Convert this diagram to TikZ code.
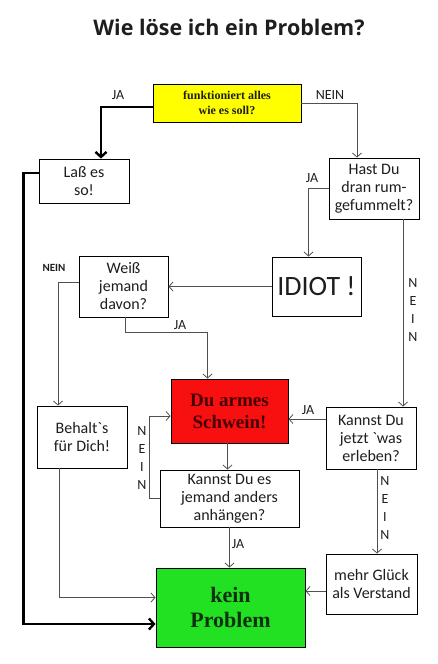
\documentclass[tikz,border=0pt]{standalone}
\usepackage{fontspec}
\setmainfont{Carlito}
\newfontfamily\plaincarlito{Carlito}
\newfontfamily\titlefont{Open Sans}
\newfontfamily\boxserif{Liberation Serif}
\usepackage{tikz}
\usetikzlibrary{arrows.meta,positioning,calc}
\definecolor{askYellow}{HTML}{FFFF00}
\definecolor{poorRed}{HTML}{F81010}
\definecolor{fineGreen}{HTML}{22E022}
\definecolor{lineGray}{HTML}{505050}
\definecolor{inkDark}{HTML}{1E1E1E}
\newcommand{\backtick}{{\plaincarlito\char"60}}

\begin{document}
\begin{tikzpicture}[
    x=1pt,y=-1pt,
    stepbox/.style={draw=black,line width=0.9pt,fill=white,align=center,
                    inner sep=2pt,text=inkDark,
                    font=\fontsize{16}{18}\selectfont},
    hotbox/.style={stepbox,font=\boxserif\bfseries\fontsize{19}{22}\selectfont},
    flow/.style={draw=lineGray,line width=0.8pt,
                 -{Straight Barb[length=4pt,width=9pt]}},
    bigflow/.style={draw=black,line width=2.4pt,
                    -{Straight Barb[length=5pt,width=11pt]}},
    answer/.style={font=\fontsize{14}{18}\selectfont,text=inkDark,align=center},
  ]
  \useasboundingbox (0,0) rectangle (438,664);
  \node[font=\titlefont\bfseries\fontsize{21.5}{24}\selectfont,text=inkDark] (title) at (229,27)
    {Wie löse ich ein Problem?};

  % the questions and answers
  \node[hotbox,fill=askYellow,minimum width=148pt,minimum height=38pt,
        font=\boxserif\bfseries\fontsize{12}{15}\selectfont] (ask) at (227,103)
    {funktioniert alles\\wie es soll?};
  \node[stepbox,minimum width=90pt,minimum height=44pt] (lass) at (84,181)
    {Laß es\\so!};
  \node[stepbox,minimum width=90pt,minimum height=61pt] (gefummelt) at (374,188.5)
    {Hast Du\\dran rum-\\gefummelt?};
  \node[stepbox,minimum width=89pt,minimum height=61pt] (weiss) at (123.5,286.5)
    {Weiß\\jemand\\davon?};
  \node[stepbox,minimum width=89pt,minimum height=59pt,
        font=\fontsize{28}{30}\selectfont] (idiot) at (316.5,286.5)
    {IDIOT !};
  \node[hotbox,fill=poorRed,text={rgb,255:red,70;green,0;blue,0},
        minimum width=117pt,minimum height=64pt] (schwein) at (229.5,411)
    {Du armes\\Schwein!};
  \node[stepbox,minimum width=90pt,minimum height=62pt] (erleben) at (371,438)
    {Kannst Du\\jetzt \backtick was\\erleben?};
  \node[stepbox,minimum width=90pt,minimum height=62pt] (behalt) at (82,437)
    {Behalt\backtick s\\für Dich!};
  \node[stepbox,minimum width=139pt,minimum height=57pt] (anhaengen) at (229.5,498.5)
    {Kannst Du es\\jemand anders\\anhängen?};
  \node[hotbox,fill=fineGreen,text={rgb,255:red,16;green,48;blue,16},
        minimum width=149pt,minimum height=79pt,
        font=\boxserif\bfseries\fontsize{22}{25}\selectfont] (kein) at (230.5,607.5)
    {kein\\Problem};
  \node[stepbox,minimum width=91pt,minimum height=60pt] (glueck) at (371.5,584)
    {mehr Glück\\als Verstand};

  % connectors
  \draw[bigflow] ([yshift=-4pt]ask.west) -| ([xshift=17pt]lass.north);
  \draw[flow] (ask.east) -| ([xshift=-17pt]gefummelt.north);
  \draw[flow] (gefummelt.west) -| ([xshift=-8pt]idiot.north);
  \draw[flow] ([xshift=29pt]gefummelt.south) -- ([xshift=29pt]gefummelt.south |- erleben.north);
  \draw[flow] (idiot.west) -- (weiss.east);
  \draw[flow] ([yshift=4pt]weiss.west) -| ([xshift=-24pt]behalt.north);
  \draw[flow] ([xshift=1.5pt]weiss.south) -- ++(0,15) -| ([xshift=-22pt]schwein.north);
  \draw[flow] ([yshift=19pt]erleben.west) -- ([yshift=19pt]erleben.west -| schwein.east);
  \draw[flow] ([xshift=-2pt]schwein.south) -- ([xshift=-2pt]anhaengen.north);
  \draw[flow] (anhaengen.west) -- ++(-10,0) |- ([yshift=-5pt]schwein.west);
  \draw[flow] (anhaengen.south) -- (anhaengen.south |- kein.north);
  \draw[flow] ([xshift=6pt]erleben.south) -- ([xshift=6pt]erleben.south |- glueck.north);
  \draw[flow] ([yshift=-7pt]glueck.west) -- ([yshift=-7pt]glueck.west -| kein.east);
  \draw[flow] ([xshift=-23pt]behalt.south) |- ([yshift=10pt]kein.west);
  \draw[bigflow] ([yshift=8pt]lass.west) -- ++(-15,0) |- ([yshift=-16.5pt]kein.west);

  % JA / NEIN labels
  \node[answer] (ja1) at (118,95) {JA};
  \node[answer] (nein1) at (330,95) {NEIN};
  \node[answer] (ja2) at (312,178) {JA};
  \node[answer] (nein2) at (413,310) {N\\E\\I\\N};
  \node[answer,font=\bfseries\fontsize{11}{13}\selectfont] (nein3) at (54,268) {NEIN};
  \node[answer] (ja3) at (180,325) {JA};
  \node[answer] (ja4) at (308,410) {JA};
  \node[answer] (nein4) at (142,458) {N\\E\\I\\N};
  \node[answer] (ja5) at (238,544) {JA};
  \node[answer] (nein5) at (385,508) {N\\E\\I\\N};
\end{tikzpicture}
\end{document}
